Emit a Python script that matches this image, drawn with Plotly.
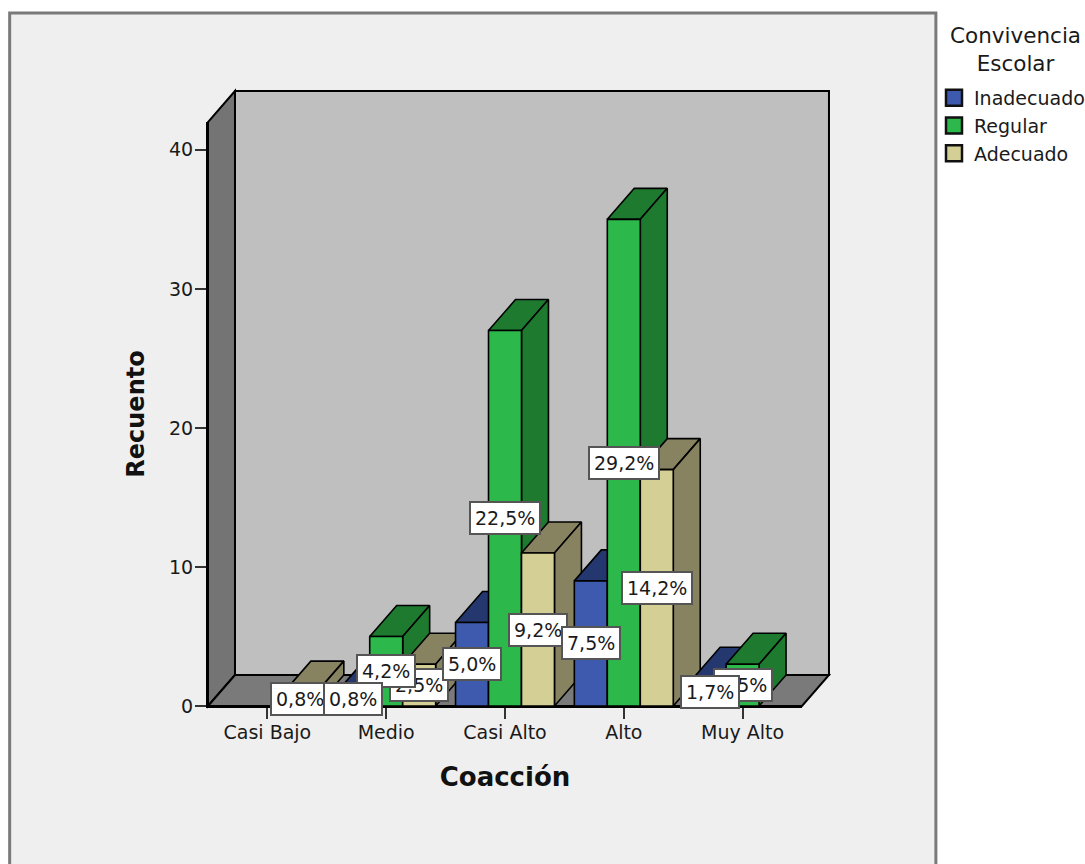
import plotly.graph_objects as go

categories = ["Casi Bajo", "Medio", "Casi Alto", "Alto", "Muy Alto"]
series_names = ["Inadecuado", "Regular", "Adecuado"]
inadecuado = [0, 1, 6, 9, 2]
regular = [0, 5, 27, 35, 3]
adecuado = [1, 3, 11, 17, 0]
pct_inadecuado = [None, "0,8%", "5,0%", "7,5%", "1,7%"]
pct_regular = [None, "4,2%", "22,5%", "29,2%", "2,5%"]
pct_adecuado = ["0,8%", "2,5%", "9,2%", "14,2%", None]
y_ticks = [0, 10, 20, 30, 40]

front_colors = ["#3D5AAE", "#2DB84B", "#D4CF95"]
dark_colors = ["#24386F", "#1E7A2F", "#878260"]

W, H = 1085, 864
L, R, T, B = 207.5, 802, 122, 706
X_RANGE = (-0.5, 4.5)
Y_RANGE = (0, 42)
px_x = (X_RANGE[1] - X_RANGE[0]) / (R - L)
px_y = (Y_RANGE[1] - Y_RANGE[0]) / (B - T)
BAR = 33 * px_x
DX = 27 * px_x
DY = 31 * px_y
FONT = "DejaVu Sans"


def paper_x(px):
    return (px - L) / (R - L)


def paper_y(py):
    return (B - py) / (B - T)


fig = go.Figure()


def poly(xs, ys, fill, line="#000000", lw=1.6):
    fig.add_trace(go.Scatter(
        x=xs + xs[:1], y=ys + ys[:1], mode="lines", fill="toself", fillcolor=fill,
        line=dict(color=line, width=lw, simplify=False), hoverinfo="skip",
        showlegend=False, cliponaxis=False,
    ))


def wall(points, fill):
    path = "M" + " L".join(f"{paper_x(a):.5f},{paper_y(b):.5f}" for a, b in points) + " Z"
    return dict(type="path", path=path, xref="paper", yref="paper", layer="below",
                fillcolor=fill, line=dict(color="#000000", width=2))


DPX, DPY = 27, 31
shapes = [
    dict(type="rect", xref="paper", yref="paper", layer="below",
         x0=paper_x(9), x1=paper_x(936), y0=paper_y(13), y1=paper_y(880),
         fillcolor="#EFEFEF", line=dict(color="#7A7A7A", width=3)),
    wall([(L + DPX, B - DPY), (R + DPX, B - DPY), (R + DPX, T - DPY), (L + DPX, T - DPY)], "#BFBFBF"),
    wall([(L, B), (L + DPX, B - DPY), (L + DPX, T - DPY), (L, T)], "#747474"),
    wall([(L, B), (R, B), (R + DPX, B - DPY), (L + DPX, B - DPY)], "#7A7A7A"),
]

all_values = [inadecuado, regular, adecuado]
all_pcts = [pct_inadecuado, pct_regular, pct_adecuado]

for c in range(len(categories)):
    for s in range(3):
        v = all_values[s][c]
        if not v:
            continue
        left = c + (s - 1.5) * BAR
        right = left + BAR
        poly([left, right, right + DX, left + DX], [v, v, v + DY, v + DY], dark_colors[s])
        poly([right, right + DX, right + DX, right], [0, DY, v + DY, v], dark_colors[s])
        poly([left, right, right, left], [0, 0, v, v], front_colors[s])

annotations = []
for c in range(len(categories)):
    for s in (2, 1, 0):
        label = all_pcts[s][c]
        if label is None:
            continue
        annotations.append(dict(
            x=c + (s - 1) * BAR, y=all_values[s][c] / 2, xref="x", yref="y", text=label,
            showarrow=False, bgcolor="#FFFFFF", bordercolor="#555555", borderwidth=2, borderpad=4,
            font=dict(family=FONT, size=19, color="#1A1A1A"),
        ))
annotations.append(dict(
    x=paper_x(1016), y=paper_y(49), xref="paper", yref="paper", text="Convivencia<br>Escolar",
    showarrow=False, align="center", xanchor="center", yanchor="middle",
    font=dict(family=FONT, size=21.5, color="#1A1A1A"),
))

# legend entries
for s, name in enumerate(series_names):
    fig.add_trace(go.Scatter(
        x=[None], y=[None], mode="markers", name=name, legendgroup=name,
        marker=dict(symbol="square", size=16, color=front_colors[s], line=dict(color="#111111", width=2.5)),
    ))

fig.update_layout(
    width=W, height=H, autosize=False,
    margin=dict(l=L, r=W - R, t=T, b=H - B, pad=0),
    paper_bgcolor="#FFFFFF", plot_bgcolor="rgba(0,0,0,0)",
    font=dict(family=FONT, size=19, color="#1A1A1A"),
    annotations=annotations,
    shapes=shapes,
    showlegend=True,
    legend=dict(
        xref="container", yref="container",
        x=934 / W, y=1 - 79 / H, xanchor="left", yanchor="top",
        bgcolor="rgba(0,0,0,0)", borderwidth=0, tracegroupgap=0, traceorder="normal",
        font=dict(family=FONT, size=19, color="#1A1A1A"),
    ),
    xaxis=dict(
        range=list(X_RANGE), tickmode="array", tickvals=list(range(len(categories))), ticktext=categories,
        showgrid=False, zeroline=False, showline=True, linecolor="#000000", linewidth=2,
        ticks="outside", ticklen=11, tickwidth=1.5, tickcolor="#333333", ticklabelstandoff=-3,
        tickfont=dict(family=FONT, size=19, color="#1A1A1A"),
        title=dict(text="<b>Coacción</b>", standoff=26, font=dict(family=FONT, size=26, color="#111111")),
    ),
    yaxis=dict(
        range=list(Y_RANGE), tickmode="array", tickvals=y_ticks,
        showgrid=False, zeroline=False, showline=True, linecolor="#000000", linewidth=2,
        ticks="outside", ticklen=11, tickwidth=1.5, tickcolor="#333333", ticklabelstandoff=-2,
        tickfont=dict(family=FONT, size=19, color="#1A1A1A"),
        title=dict(text="<b>Recuento</b>", standoff=18, font=dict(family=FONT, size=24, color="#111111")),
    ),
)

fig.write_html("out.html", config=dict(displayModeBar=False),
               post_script="document.body.style.margin='0';document.body.style.overflow='hidden';")
